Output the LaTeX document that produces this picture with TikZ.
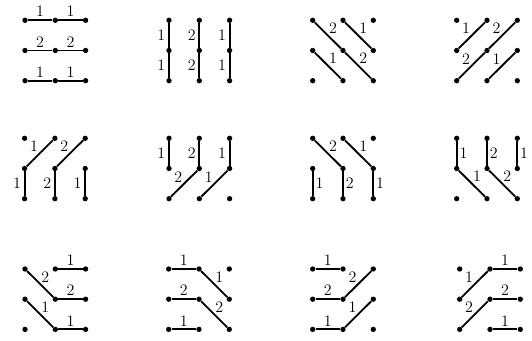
\documentclass[tikz,border=0pt]{standalone}
\begin{document}
\begin{tikzpicture}[x=0.75pt,y=-0.75pt,
  dot/.style={circle,fill=black,inner sep=0pt,minimum size=4pt},
  e/.style={line width=1.35pt},
  lbl/.style={midway,anchor=center,inner sep=0pt,font=\fontsize{12}{14}\selectfont},
  labA/.style={lbl,yshift=6.5pt},
  labL/.style={lbl,xshift=-5.7pt},
  labR/.style={lbl,xshift=5.1pt},
  labAR/.style={lbl,xshift=3.9pt,yshift=5.4pt},
  labAL/.style={lbl,xshift=-4.3pt,yshift=5.1pt}]
\useasboundingbox (0,0) rectangle (532,341);
\newcommand\mkgrid[3]{%
  \foreach \c in {0,1,2}{\foreach \r in {0,1,2}{%
    \node[dot] (#1-\c-\r) at ({#2+30.3*\c},{#3+30.2*\r}) {};}}}
% row 1
\mkgrid{a}{25}{20.3}
\mkgrid{b}{169}{20.3}
\mkgrid{c}{312.7}{20.3}
\mkgrid{d}{456.7}{20.3}
% row 2
\mkgrid{f}{24.6}{138.3}
\mkgrid{g}{169}{138.3}
\mkgrid{h}{312.7}{138.3}
\mkgrid{i}{456.7}{138.3}
% row 3
\mkgrid{j}{25}{269}
\mkgrid{k}{168.7}{269}
\mkgrid{l}{312.7}{269}
\mkgrid{m}{459.7}{269}
% panel 1
\draw[e] (a-0-0) -- node[labA]{1} (a-1-0);
\draw[e] (a-1-0) -- node[labA]{1} (a-2-0);
\draw[e] (a-0-1) -- node[labA]{2} (a-1-1);
\draw[e] (a-1-1) -- node[labA]{2} (a-2-1);
\draw[e] (a-0-2) -- node[labA]{1} (a-1-2);
\draw[e] (a-1-2) -- node[labA]{1} (a-2-2);
% panel 2
\draw[e] (b-0-0) -- node[labL]{1} (b-0-1);
\draw[e] (b-0-1) -- node[labL]{1} (b-0-2);
\draw[e] (b-1-0) -- node[labL]{2} (b-1-1);
\draw[e] (b-1-1) -- node[labL]{2} (b-1-2);
\draw[e] (b-2-0) -- node[labL]{1} (b-2-1);
\draw[e] (b-2-1) -- node[labL]{1} (b-2-2);
% panel 3
\draw[e] (c-0-0) -- node[labAR]{2} (c-1-1);
\draw[e] (c-1-1) -- node[labAR]{2} (c-2-2);
\draw[e] (c-1-0) -- node[labAR]{1} (c-2-1);
\draw[e] (c-0-1) -- node[labAR]{1} (c-1-2);
% panel 4
\draw[e] (d-0-1) -- node[labAL]{1} (d-1-0);
\draw[e] (d-0-2) -- node[labAL]{2} (d-1-1);
\draw[e] (d-1-1) -- node[labAL]{2} (d-2-0);
\draw[e] (d-1-2) -- node[labAL]{1} (d-2-1);
% panel 5
\draw[e] (f-0-1) -- node[labAL]{1} (f-1-0);
\draw[e] (f-1-1) -- node[labAL]{2} (f-2-0);
\draw[e] (f-0-1) -- node[labL]{1} (f-0-2);
\draw[e] (f-1-1) -- node[labL]{2} (f-1-2);
\draw[e] (f-2-1) -- node[labL]{1} (f-2-2);
% panel 6
\draw[e] (g-0-0) -- node[labL]{1} (g-0-1);
\draw[e] (g-1-0) -- node[labL]{2} (g-1-1);
\draw[e] (g-2-0) -- node[labL]{1} (g-2-1);
\draw[e] (g-0-2) -- node[labAL]{2} (g-1-1);
\draw[e] (g-1-2) -- node[labAL]{1} (g-2-1);
% panel 7
\draw[e] (h-0-0) -- node[labAR]{2} (h-1-1);
\draw[e] (h-1-0) -- node[labAR]{1} (h-2-1);
\draw[e] (h-0-1) -- node[labR]{1} (h-0-2);
\draw[e] (h-1-1) -- node[labR]{2} (h-1-2);
\draw[e] (h-2-1) -- node[labR]{1} (h-2-2);
% panel 8
\draw[e] (i-0-0) -- node[labR]{1} (i-0-1);
\draw[e] (i-1-0) -- node[labR]{2} (i-1-1);
\draw[e] (i-2-0) -- node[labR]{1} (i-2-1);
\draw[e] (i-0-1) -- node[labAR]{1} (i-1-2);
\draw[e] (i-1-1) -- node[labAR]{2} (i-2-2);
% panel 9
\draw[e] (j-0-0) -- node[labAR]{2} (j-1-1);
\draw[e] (j-0-1) -- node[labAR]{1} (j-1-2);
\draw[e] (j-1-0) -- node[labA]{1} (j-2-0);
\draw[e] (j-1-1) -- node[labA]{2} (j-2-1);
\draw[e] (j-1-2) -- node[labA]{1} (j-2-2);
% panel 10
\draw[e] (k-0-0) -- node[labA]{1} (k-1-0);
\draw[e] (k-0-1) -- node[labA]{2} (k-1-1);
\draw[e] (k-0-2) -- node[labA]{1} (k-1-2);
\draw[e] (k-1-0) -- node[labAR]{1} (k-2-1);
\draw[e] (k-1-1) -- node[labAR]{2} (k-2-2);
% panel 11
\draw[e] (l-0-0) -- node[labA]{1} (l-1-0);
\draw[e] (l-0-1) -- node[labA]{2} (l-1-1);
\draw[e] (l-0-2) -- node[labA]{1} (l-1-2);
\draw[e] (l-1-1) -- node[labAL]{2} (l-2-0);
\draw[e] (l-1-2) -- node[labAL]{1} (l-2-1);
% panel 12
\draw[e] (m-0-1) -- node[labAL]{1} (m-1-0);
\draw[e] (m-0-2) -- node[labAL]{2} (m-1-1);
\draw[e] (m-1-0) -- node[labA]{1} (m-2-0);
\draw[e] (m-1-1) -- node[labA]{2} (m-2-1);
\draw[e] (m-1-2) -- node[labA]{1} (m-2-2);
\end{tikzpicture}
\end{document}
